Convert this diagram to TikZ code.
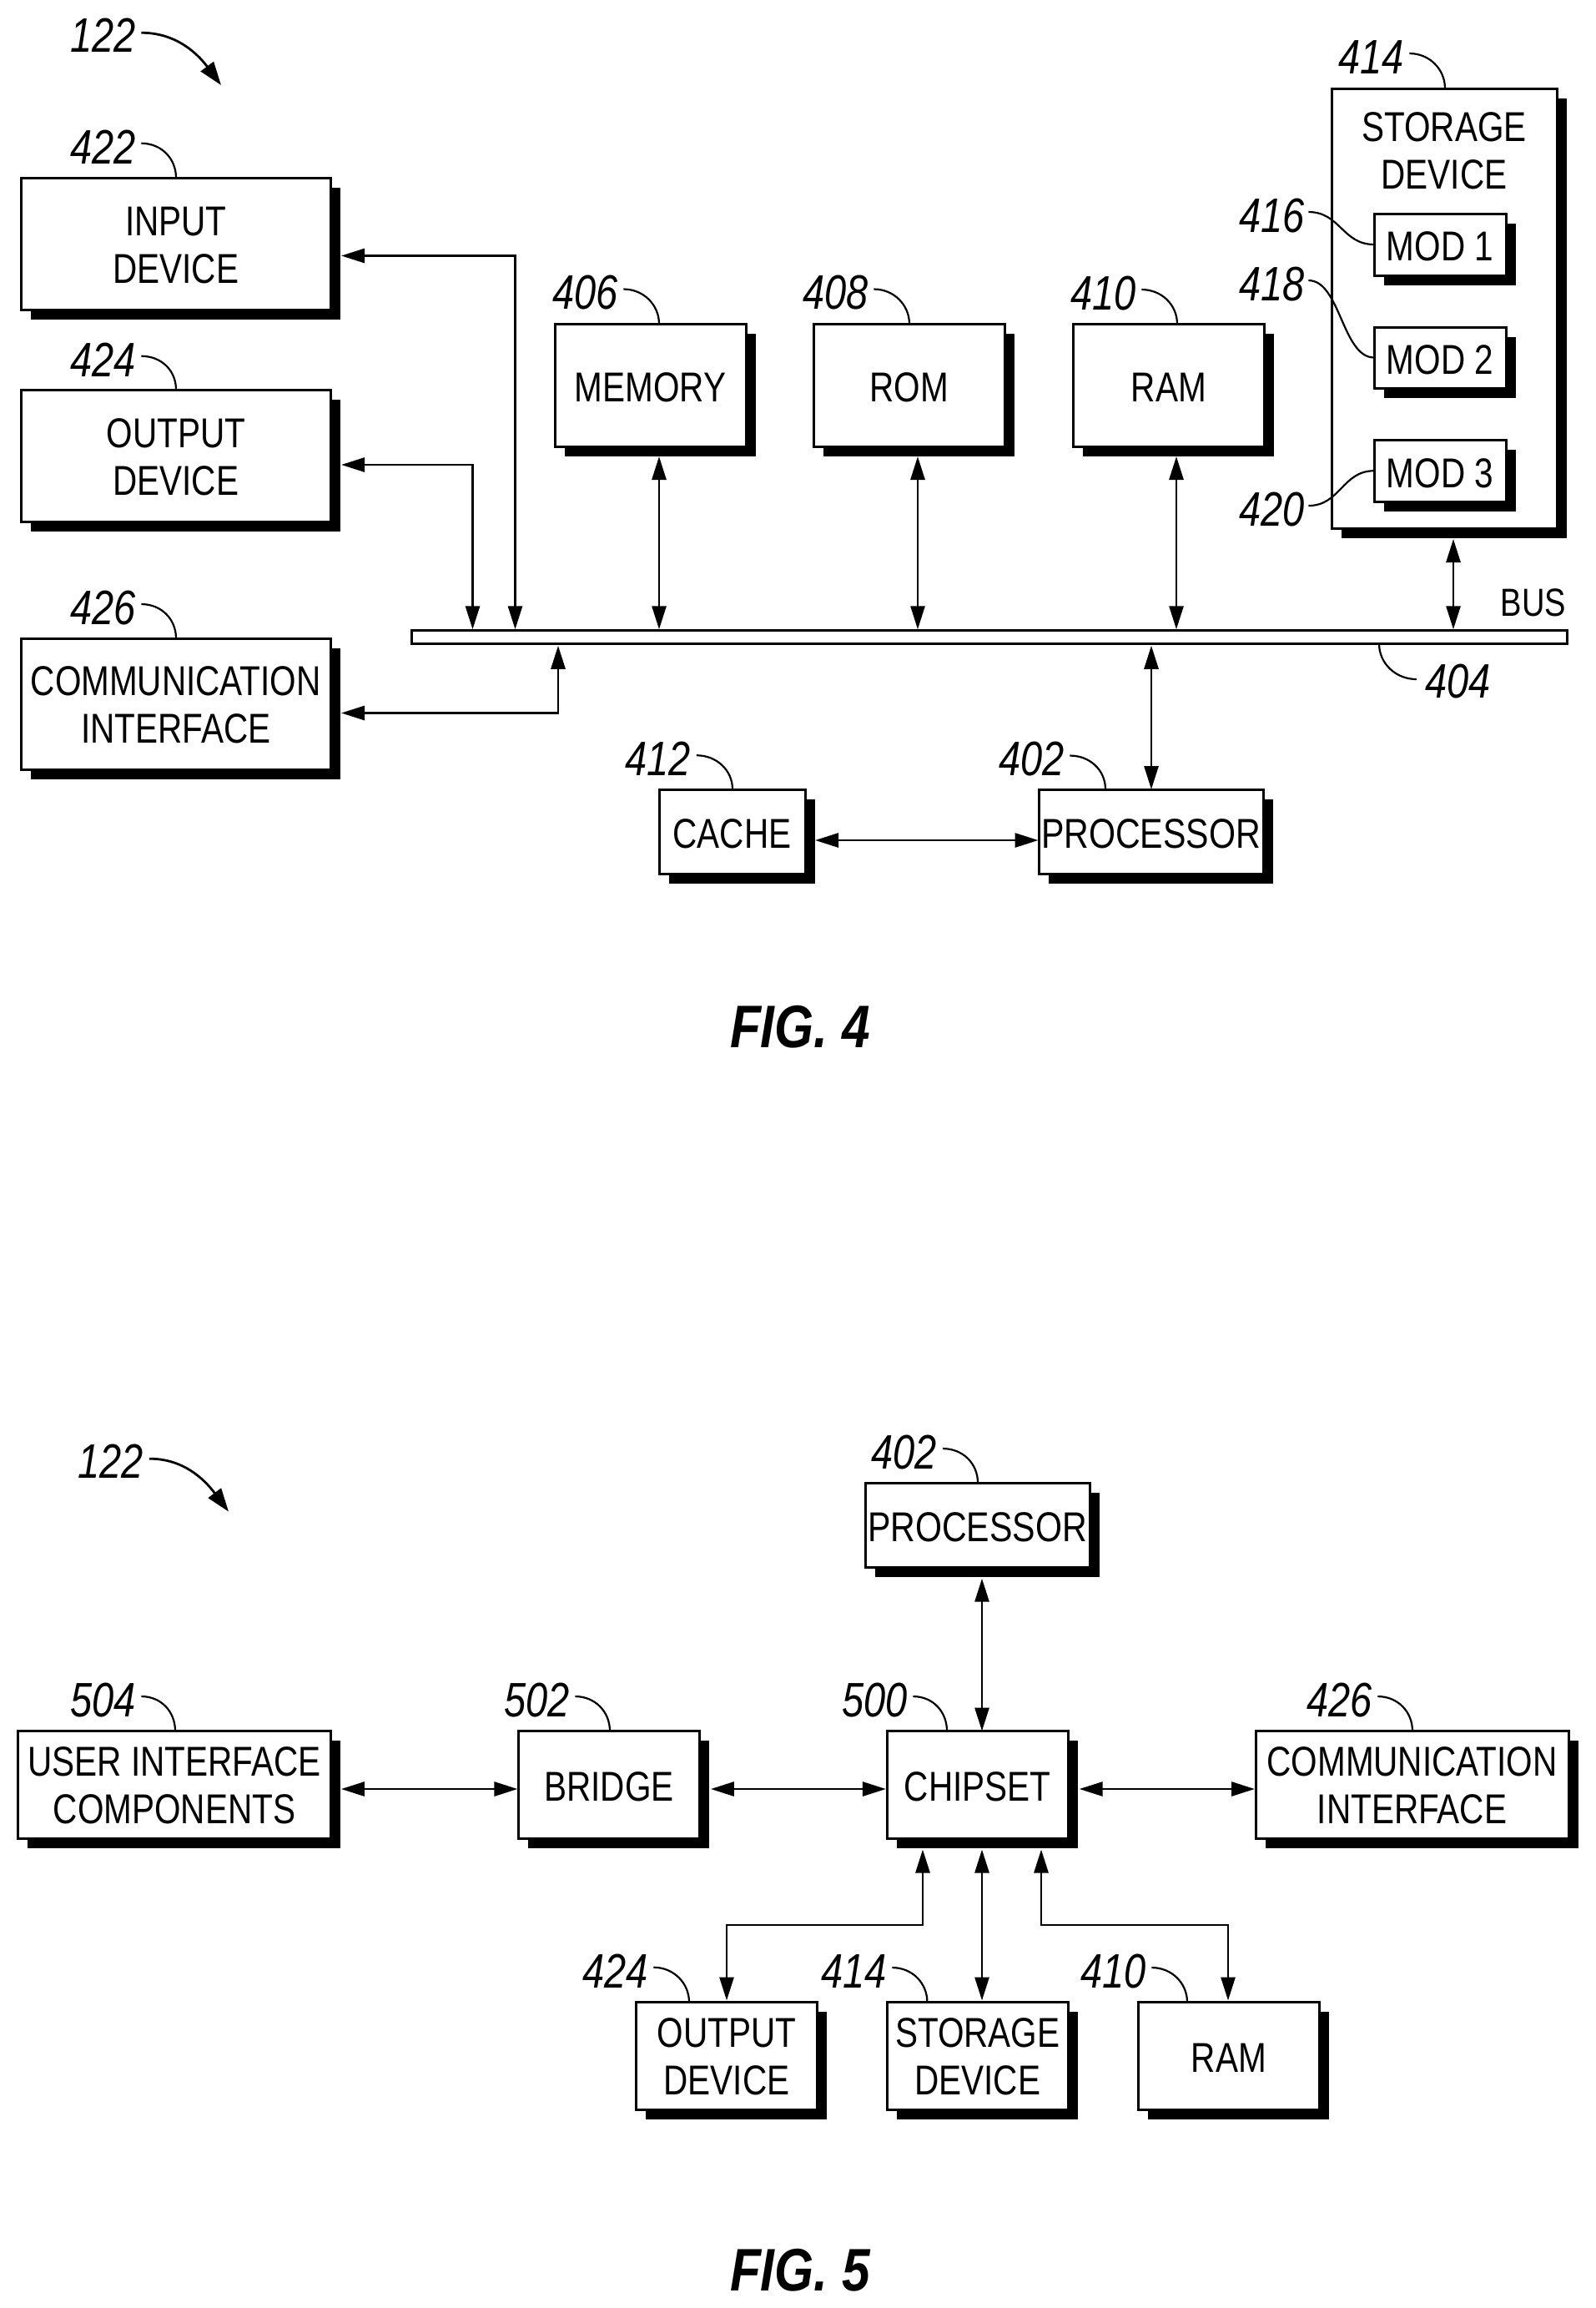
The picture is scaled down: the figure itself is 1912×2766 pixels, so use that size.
\documentclass[tikz,border=0pt]{standalone}
\usepackage{fontspec}
\usetikzlibrary{arrows.meta,shadows}
\newfontfamily\boxfam[FakeStretch=0.81]{Liberation Sans}
\newfontfamily\numfam[FakeStretch=0.81]{Liberation Sans}
\newfontfamily\figfam[FakeStretch=0.84]{Liberation Sans}
\newcommand\boxfontsel{\boxfam\fontsize{50}{57}\selectfont}
\newcommand\oneline{\rule{0pt}{40pt}}
\newcommand\twoline{\rule{0pt}{37.5pt}}
\tikzset{
  blk/.style={draw=black,fill=white,line width=3pt,inner sep=0pt,outer sep=0pt,align=center,
    font=\boxfontsel,text=black,
    general shadow={fill=black,shadow xshift=11.5pt,shadow yshift=-11.5pt}},
  plainblk/.style={inner sep=0pt,outer sep=0pt,align=center,font=\boxfontsel},
  buswire/.style={draw=black,fill=white,line width=3pt,inner sep=0pt,outer sep=0pt},
  lab/.style={inner sep=0pt,outer sep=0pt,anchor=base west,font=\numfam\itshape\fontsize{58}{58}\selectfont},
  figlab/.style={inner sep=0pt,outer sep=0pt,anchor=base west,font=\figfam\bfseries\itshape\fontsize{72}{72}\selectfont},
  leader/.style={draw=black,line width=2.2pt},
  bi/.style={draw=black,line width=2.8pt,{Triangle[length=28pt,width=17pt]}-{Triangle[length=28pt,width=17pt]}},
  refarrow/.style={draw=black,line width=2.8pt,-{Triangle[length=28pt,width=19pt]}}
}
\newcommand\bx[6]{%
  \pgfmathsetmacro\bxcx{(#2+#4)/2}\pgfmathsetmacro\bxcy{(#3+#5)/2}%
  \pgfmathsetmacro\bxw{#4-#2}\pgfmathsetmacro\bxh{#5-#3}%
  \node[blk,minimum width=\bxw pt,minimum height=\bxh pt] (#1) at (\bxcx,\bxcy) {#6};}
\newcommand\qlead[3]{\draw[leader] ([shift={(7,-4)}]#1.east) .. controls +(24,0) and +(0,-23) .. ([xshift=#3pt]#2.north west);}
\begin{document}
\begin{tikzpicture}[x=1pt,y=-1pt]
\useasboundingbox (0,0) rectangle (1912,2766);
\fill[white] (0,0) rectangle (1912,2766);

% ---------- FIG. 4 ----------
\node[lab] (ref122a) at (84,62.5) {122};
\coordinate (end122a) at (265,102);
\draw[refarrow] ([shift={(7,-3)}]ref122a.east) .. controls +(40,0) and +(-30,-40) .. (end122a);

\bx{a422}{25}{213}{396.5}{371}{\twoline INPUT\\DEVICE}
\bx{a424}{25}{467}{396.5}{625}{\twoline OUTPUT\\DEVICE}
\bx{a426}{25}{765}{396.5}{922}{\twoline COMMUNICATION\\INTERFACE}
\bx{a406}{665}{388.4}{894}{535}{\oneline MEMORY}
\bx{a408}{975.4}{388.4}{1204}{535}{\oneline ROM}
\bx{a410}{1286.5}{388.4}{1515}{535}{\oneline RAM}
\bx{a414}{1596}{106}{1866.5}{633}{}
\node[plainblk] (a414t) at (1731,181) {STORAGE\\DEVICE};
\bx{a416}{1647}{256}{1805}{330}{\oneline MOD 1}
\bx{a418}{1647}{392}{1805}{465}{\oneline MOD 2}
\bx{a420}{1647}{527}{1805}{601.5}{\oneline MOD 3}
\bx{a412}{790}{946}{965}{1047}{\oneline CACHE}
\bx{a402}{1245}{946}{1514}{1047}{\oneline\scalebox{1.015}[1]{PROCESSOR}}
\node[buswire,minimum width=1385pt,minimum height=15.5pt] (bus) at (1185.5,763.5) {};
\node[plainblk,anchor=base east,font=\boxfam\fontsize{47}{50}\selectfont] (bustext) at (1877,738) {BUS};

\node[lab] (l422) at (84,196) {422};
\node[lab] (l424) at (84,451) {424};
\node[lab] (l426) at (84,748) {426};
\node[lab] (l406) at (662,370.5) {406};
\node[lab] (l408) at (962,370.5) {408};
\node[lab] (l410) at (1283,371) {410};
\node[lab] (l414) at (1604,88) {414};
\node[lab] (l416) at (1485,278) {416};
\node[lab] (l418) at (1485,360) {418};
\node[lab] (l420) at (1485,630) {420};
\node[lab] (l412) at (749.5,929.5) {412};
\node[lab] (l402) at (1197,929.5) {402};
\node[lab] (l404) at (1708,836) {404};

\qlead{l422}{a422}{186}
\qlead{l424}{a424}{186}
\qlead{l426}{a426}{186}
\qlead{l406}{a406}{125}
\qlead{l408}{a408}{114.6}
\qlead{l410}{a410}{124.5}
\qlead{l414}{a414}{136}
\qlead{l412}{a412}{88}
\qlead{l402}{a402}{80}
\draw[leader] ([shift={(5,-4)}]l416.east) .. controls +(38,0) and +(-38,0) .. (a416.west);
\draw[leader] ([shift={(5,-4)}]l418.east) .. controls +(38,0) and +(-38,0) .. ([yshift=0pt]a418.west);
\draw[leader] ([shift={(5,-4)}]l420.east) .. controls +(38,0) and +(-38,0) .. (a420.west);
\draw[leader] ([shift={(-10,-2)}]l404.west) .. controls +(-25,0) and +(0,24) .. ([xshift=1160pt]bus.south west);

% connectors to the bus
\coordinate (j422) at (617.5,306.5);
\coordinate (j424) at (566.5,557);
\coordinate (j426) at (669,854.5);
\coordinate (j406) at (790,650);
\coordinate (j408) at (1100,650);
\coordinate (j410) at (1410,650);
\coordinate (j414) at (1742,700);
\coordinate (j402) at (1380,860);
\coordinate (j412) at (1100,1007);
\draw[bi] ([xshift=12.5pt]a422.east |- j422) -- (j422) -- ([yshift=1.5pt]j422 |- bus.north);
\draw[bi] ([xshift=12.5pt]a424.east |- j424) -- (j424) -- ([yshift=1.5pt]j424 |- bus.north);
\draw[bi] ([xshift=12.5pt]a426.east |- j426) -- (j426) -- ([yshift=-2.5pt]j426 |- bus.south);
\draw[bi] ([yshift=-12pt]j406 |- a406.south) -- ([yshift=1.5pt]j406 |- bus.north);
\draw[bi] ([yshift=-12pt]j408 |- a408.south) -- ([yshift=1.5pt]j408 |- bus.north);
\draw[bi] ([yshift=-12pt]j410 |- a410.south) -- ([yshift=1.5pt]j410 |- bus.north);
\draw[bi] ([yshift=-13pt]j414 |- a414.south) -- ([yshift=1.5pt]j414 |- bus.north);
\draw[bi] ([yshift=-2.5pt]j402 |- bus.south) -- (j402 |- a402.north);
\draw[bi] ([xshift=12pt]a412.east |- j412) -- ([xshift=-0.5pt]a402.west |- j412);

\node[figlab] (fig4) at (875,1255) {FIG. 4};

% ---------- FIG. 5 ----------
\node[lab] (ref122b) at (93.6,1771.4) {122};
\coordinate (end122b) at (274,1811.6);
\draw[refarrow] ([shift={(7,-3)}]ref122b.east) .. controls +(40,0) and +(-30,-40) .. (end122b);

\bx{b402}{1037}{1777}{1306}{1878}{\oneline\scalebox{1.015}[1]{PROCESSOR}}
\bx{b504}{21.4}{2074.5}{396.4}{2203}{\twoline USER INTERFACE\\COMPONENTS}
\bx{b502}{621.4}{2074.5}{838.4}{2203}{\oneline BRIDGE}
\bx{b500}{1063.4}{2074.5}{1280}{2203}{\oneline CHIPSET}
\bx{b426}{1505}{2074.5}{1880}{2203}{\twoline COMMUNICATION\\INTERFACE}
\bx{b424}{762.5}{2399.5}{979.5}{2528}{\twoline OUTPUT\\DEVICE}
\bx{b414}{1063.4}{2399.5}{1280}{2528}{\twoline STORAGE\\DEVICE}
\bx{b410}{1364}{2399.5}{1581.6}{2528}{\oneline RAM}

\node[lab] (m402) at (1044.7,1760) {402};
\node[lab] (m504) at (84,2057) {504};
\node[lab] (m502) at (604,2057) {502};
\node[lab] (m500) at (1009,2057) {500};
\node[lab] (m426) at (1566,2057) {426};
\node[lab] (m424) at (698,2382) {424};
\node[lab] (m414) at (984,2382) {414};
\node[lab] (m410) at (1295,2382) {410};

\qlead{m402}{b402}{135}
\qlead{m504}{b504}{188.6}
\qlead{m502}{b502}{109.6}
\qlead{m500}{b500}{71.6}
\qlead{m426}{b426}{188}
\qlead{m424}{b424}{63.5}
\qlead{m414}{b414}{48}
\qlead{m410}{b410}{59}

\coordinate (k402) at (1177,1980);
\coordinate (kmid) at (1100,2144);
\coordinate (kl) at (1106,2307);
\coordinate (kol) at (871,2307);
\coordinate (kr) at (1248,2307);
\coordinate (kor) at (1472,2307);
\coordinate (ks) at (1177,2307);
\draw[bi] ([yshift=-13.7pt]k402 |- b402.south) -- (k402 |- b500.north);
\draw[bi] ([xshift=12.5pt]b504.east |- kmid) -- ([xshift=-1pt]b502.west |- kmid);
\draw[bi] ([xshift=13.5pt]b502.east |- kmid) -- ([xshift=-1.5pt]b500.west |- kmid);
\draw[bi] ([xshift=13.7pt]b500.east |- kmid) -- ([xshift=-1pt]b426.west |- kmid);
\draw[bi] ([yshift=-13.5pt]kl |- b500.south) -- (kl) -- (kol) -- ([yshift=2pt]kol |- b424.north);
\draw[bi] ([yshift=-13.5pt]ks |- b500.south) -- ([yshift=2pt]ks |- b414.north);
\draw[bi] ([yshift=-13.5pt]kr |- b500.south) -- (kr) -- (kor) -- ([yshift=2pt]kor |- b410.north);

\node[figlab] (fig5) at (875,2745) {FIG. 5};
\end{tikzpicture}
\end{document}
